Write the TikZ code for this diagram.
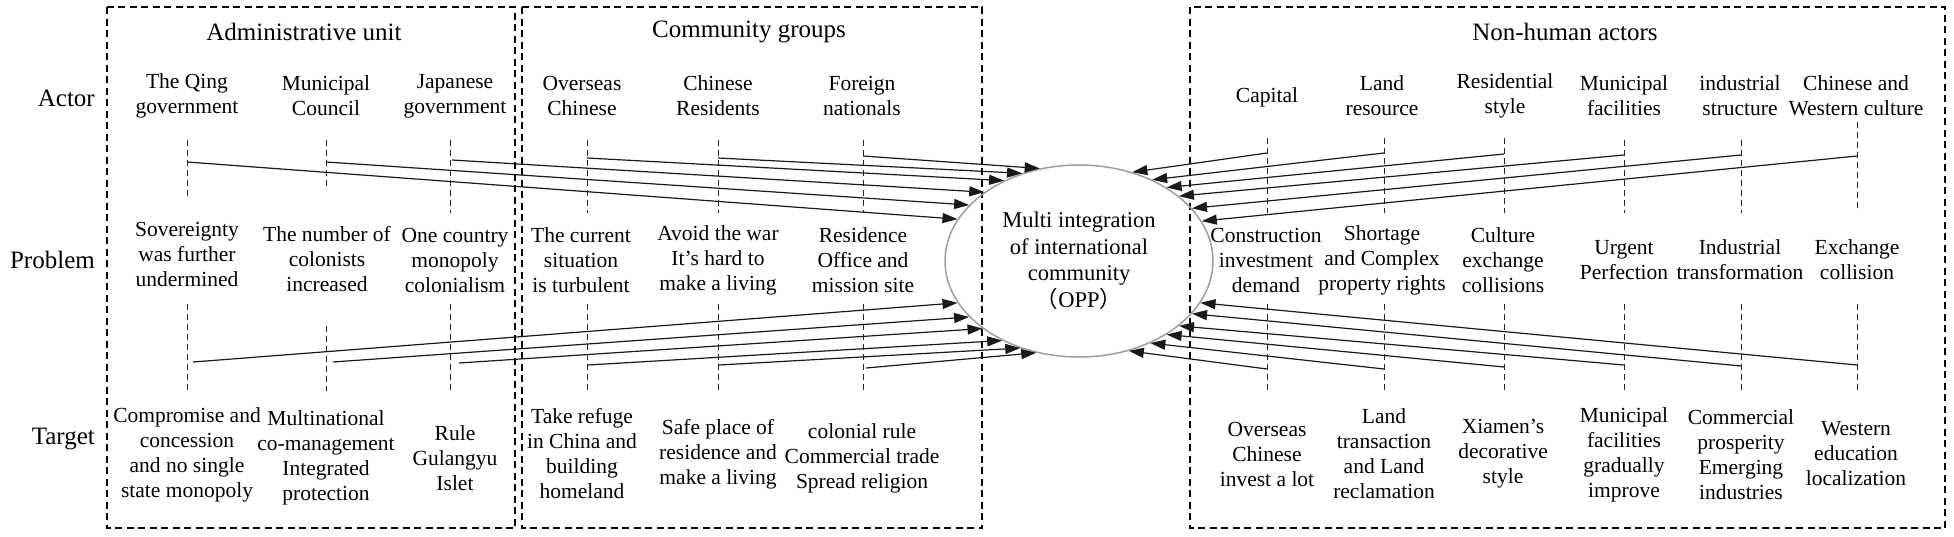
\documentclass[tikz,border=0pt]{standalone}
\usepackage{fontspec}
\setmainfont{Liberation Serif}
\newfontfamily\cjkfont{Noto Sans CJK SC}
\usetikzlibrary{arrows.meta,shapes.geometric}
\begin{document}
\begin{tikzpicture}[x=1pt,y=-1pt,
  lbl/.style={align=center,inner sep=0pt,font=\fontsize{21.5}{25}\selectfont},
  ttl/.style={inner sep=0pt,font=\fontsize{25}{30}\selectfont},
  rowlbl/.style={inner sep=0pt,anchor=east,font=\fontsize{25}{30}\selectfont},
  grp/.style={draw=black,line width=1.7pt,dash pattern=on 7pt off 4.5pt},
  tick/.style={draw=black!85,line width=0.9pt,dash pattern=on 6pt off 4pt},
  arr/.style={draw=black!90,line width=1.2pt,-{Triangle[length=15pt,width=10pt]}},
]
\useasboundingbox (0,0) rectangle (1954,536);

% group frames
\draw[grp] (107,7) rectangle (515,528);
\draw[grp] (522,7) rectangle (982,528);
\draw[grp] (1190,7) rectangle (1945,528);

% titles
\node[ttl] (tadm) at (304,32) {Administrative unit};
\node[ttl] (tcom) at (749,32) {Community groups};
\node[ttl] (tnon) at (1565,32) {Non-human actors};

% row labels
\node[rowlbl] (ractor) at (95,98) {Actor};
\node[rowlbl] (rprob) at (95,260) {Problem};
\node[rowlbl] (rtarg) at (95,439) {Target};

% central node
\node[ellipse,draw=black!38,line width=1.5pt,minimum width=268pt,minimum height=192pt,
      inner sep=0pt,align=center,font=\fontsize{22.5}{26.5}\selectfont]
  (opp) at (1079,261) {Multi integration\\of international\\community\\{\cjkfont （}OPP{\cjkfont ）}};

% actors
\node[lbl] (a1) at (187,96) {The Qing\\government};
\node[lbl] (a2) at (326,96) {Municipal\\Council};
\node[lbl] (a3) at (455,96) {Japanese\\government};
\node[lbl] (c1) at (582,96) {Overseas\\Chinese};
\node[lbl] (c2) at (718,96) {Chinese\\Residents};
\node[lbl] (c3) at (862,96) {Foreign\\nationals};
\node[lbl] (n1) at (1267,97) {Capital};
\node[lbl] (n2) at (1382,96) {Land\\resource};
\node[lbl] (n3) at (1505,96) {Residential\\style};
\node[lbl] (n4) at (1624,96) {Municipal\\facilities};
\node[lbl] (n5) at (1740,96) {industrial\\structure};
\node[lbl] (n6) at (1856,96) {Chinese and\\Western culture};

% problems
\node[lbl] (pa1) at (187,254) {Sovereignty\\was further\\undermined};
\node[lbl] (pa2) at (327,259) {The number of\\colonists\\increased};
\node[lbl] (pa3) at (455,260) {One country\\monopoly\\colonialism};
\node[lbl] (pc1) at (581,260) {The current\\situation\\is turbulent};
\node[lbl] (pc2) at (718,260) {Avoid the war\\It's hard to\\make a living};
\node[lbl] (pc3) at (863,260) {Residence\\Office and\\mission site};
\node[lbl] (pn1) at (1266,260) {Construction\\investment\\demand};
\node[lbl] (pn2) at (1382,260) {Shortage\\and Complex\\property rights};
\node[lbl] (pn3) at (1503,260) {Culture\\exchange\\collisions};
\node[lbl] (pn4) at (1624,260) {Urgent\\Perfection};
\node[lbl] (pn5) at (1740,260) {Industrial\\transformation};
\node[lbl] (pn6) at (1857,260) {Exchange\\collision};

% targets
\node[lbl] (ta1) at (187,455) {Compromise and\\concession\\and no single\\state monopoly};
\node[lbl] (ta2) at (326,458) {Multinational\\co-management\\Integrated\\protection};
\node[lbl] (ta3) at (455,458) {Rule\\Gulangyu\\Islet};
\node[lbl] (tc1) at (582,454) {Take refuge\\in China and\\building\\homeland};
\node[lbl] (tc2) at (718,454) {Safe place of\\residence and\\make a living};
\node[lbl] (tc3) at (862,458) {colonial rule\\Commercial trade\\Spread religion};
\node[lbl] (tn1) at (1267,454) {Overseas\\Chinese\\invest a lot};
\node[lbl] (tn2) at (1384,454) {Land\\transaction\\and Land\\reclamation};
\node[lbl] (tn3) at (1503,454) {Xiamen's\\decorative\\style};
\node[lbl] (tn4) at (1624,455) {Municipal\\facilities\\gradually\\improve};
\node[lbl] (tn5) at (1741,455) {Commercial\\prosperity\\Emerging\\industries};
\node[lbl] (tn6) at (1856,454) {Western\\education\\localization};

% dashed ticks (actor -> problem)
\foreach \x/\ya/\yb in {187/140/198, 326/140/188, 450/140/213, 587/140/213, 718/140/213, 863/140/213,
    1267/138/213, 1384/138/213, 1504/138/213, 1624/140/213, 1741/140/213, 1857/122/212}
  \draw[tick] (\x,\ya) -- (\x,\yb);
% dashed ticks (problem -> target)
\foreach \x/\ya/\yb in {187/304/391, 326/326/391, 450/304/391, 587/304/391, 718/304/391, 863/304/391,
    1267/304/391, 1384/304/391, 1504/304/391, 1624/304/391, 1741/304/391, 1857/304/391}
  \draw[tick] (\x,\ya) -- (\x,\yb);

% upper connectors
\foreach \nm/\x/\y/\ang in {ua1/187/162/161.6, ua2/326/162/153.4, ua3/452/160/144.3,
    uc1/587/158/133.9, uc2/718/158/123.5, uc3/863/156/113.8,
    un1/1267/153/59.9, un2/1384/153/48.4, un3/1504/154/40.0,
    un4/1624/155/33.0, un5/1741/155/25.2, un6/1857/156/18.3} {
  \coordinate (\nm) at (\x,\y);
  \draw[arr] (\nm) -- (opp.\ang);
}
% lower connectors
\foreach \nm/\x/\y/\ang in {la1/193/362/199.0, la2/333/362/207.0, la3/459/363/215.8,
    lc1/588/365/226.1, lc2/719/365/236.2, lc3/866/368/245.9,
    ln1/1267/369/299.9, ln2/1384/369/311.8, ln3/1504/367/320.4,
    ln4/1624/365/327.7, ln5/1741/366/335.3, ln6/1857/365/341.6} {
  \coordinate (\nm) at (\x,\y);
  \draw[arr] (\nm) -- (opp.\ang);
}
\end{tikzpicture}
\end{document}
